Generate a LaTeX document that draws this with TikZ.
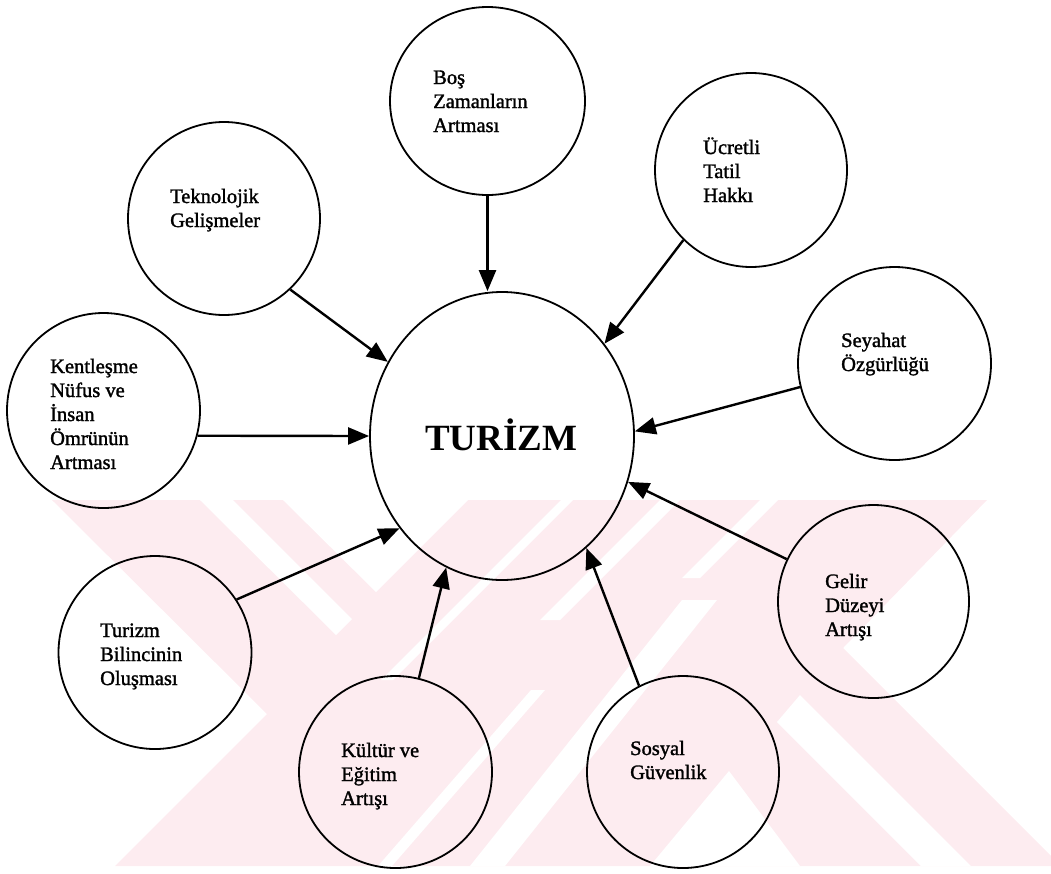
\documentclass[tikz,border=0pt]{standalone}
\usepackage{fontspec}
\setmainfont{Liberation Serif}
\newfontfamily\labfont[FakeBold=1.5]{Liberation Serif}
\usetikzlibrary{shapes.geometric,arrows.meta}
\definecolor{wm}{RGB}{253,236,240}
\begin{document}
\begin{tikzpicture}[x=1pt,y=-1pt,
  bub/.style={draw,ellipse,line width=1.8pt,inner sep=0pt},
  lbl/.style={anchor=base west,align=left,inner sep=0pt,font=\labfont\fontsize{20.5}{24}\selectfont},
  arr/.style={line width=2.4pt,-{Triangle[length=21pt,width=17pt]}}]
\useasboundingbox (0,0) rectangle (1051,873);
% faint watermark
\fill[wm] (52,500) -- (987,500) -- (843,648) -- (1051,856) -- (1051,866) -- (115,866) -- (267,714) -- cycle;
\fill[white] (283,500) -- (468,500) -- (376,592) -- cycle;
\fill[white] (200,500) -- (233,500) -- (352,619) -- (336,635) -- cycle;
\fill[white] (800,695) -- (971,866) -- (921,866) -- (777,722) -- cycle;
\fill[white] (729,771) -- (800,866) -- (650,866) -- cycle;
\fill[white] (470,866) -- (505,866) -- (717,600) -- (682,600) -- cycle;
\fill[white] (561,500) -- (573,500) -- (393,680) -- (381,680) -- cycle;
\fill[white] (660,500) -- (680,500) -- (560,620) -- (540,620) -- cycle;
\fill[white] (760,500) -- (778,500) -- (700,578) -- (682,578) -- cycle;
\fill[white] (378,866) -- (392,866) -- (545,690) -- (531,690) -- cycle;
% circles
\node[bub,minimum width=264pt,minimum height=288pt] (tur) at (502,436) {};
\node[bub,minimum width=195pt,minimum height=188pt] (bos) at (487.5,101) {};
\node[bub,minimum width=192pt,minimum height=193pt] (tek) at (224,218.5) {};
\node[bub,minimum width=193pt,minimum height=195pt] (ken) at (103.5,410.5) {};
\node[bub,minimum width=192pt,minimum height=194pt] (ucr) at (751,170) {};
\node[bub,minimum width=193pt,minimum height=193pt] (sey) at (894.5,363.5) {};
\node[bub,minimum width=191pt,minimum height=193pt] (gel) at (873.5,601.5) {};
\node[bub,minimum width=193pt,minimum height=193pt] (tbi) at (155,652.5) {};
\node[bub,minimum width=193pt,minimum height=192pt] (kul) at (395.5,772) {};
\node[bub,minimum width=192pt,minimum height=192pt] (sos) at (683,772) {};
% texts (anchor = baseline of last line)
\node[anchor=base west,inner sep=0pt,font=\bfseries\fontsize{37}{40}\selectfont] (turt) at (425,450) {TURİZM};
\node[lbl] (bost) at (433,132) {Boş\\Zamanların\\Artması};
\node[lbl] (tekt) at (170,227) {Teknolojik\\Gelişmeler};
\node[lbl] (kent) at (50,469) {Kentleşme\\Nüfus ve\\İnsan\\Ömrünün\\Artması};
\node[lbl] (ucrt) at (703,202) {Ücretli\\Tatil\\Hakkı};
\node[lbl] (seyt) at (841,371) {Seyahat\\Özgürlüğü};
\node[lbl] (gelt) at (825,636) {Gelir\\Düzeyi\\Artışı};
\node[lbl] (tbit) at (100,685) {Turizm\\Bilincinin\\Oluşması};
\node[lbl] (kult) at (341,805) {Kültür ve\\Eğitim\\Artışı};
\node[lbl] (sost) at (630,779) {Sosyal\\Güvenlik};
% arrows
\draw[arr] (bos.south) -- (bos.south |- tur.north);
\draw[arr] (tek.-47) -- (tur.147);
\draw[arr] (ken.-15) -- (tur.west);
\draw[arr] (ucr.226) -- (tur.42);
\draw[arr] (sey.194) -- (tur.2);
\draw[arr] (gel.154) -- (tur.-20);
\draw[arr] (tbi.33) -- (tur.222);
\draw[arr] (kul.76) -- (tur.247);
\draw[arr] (sos.117) -- (tur.-53);
\end{tikzpicture}
\end{document}
